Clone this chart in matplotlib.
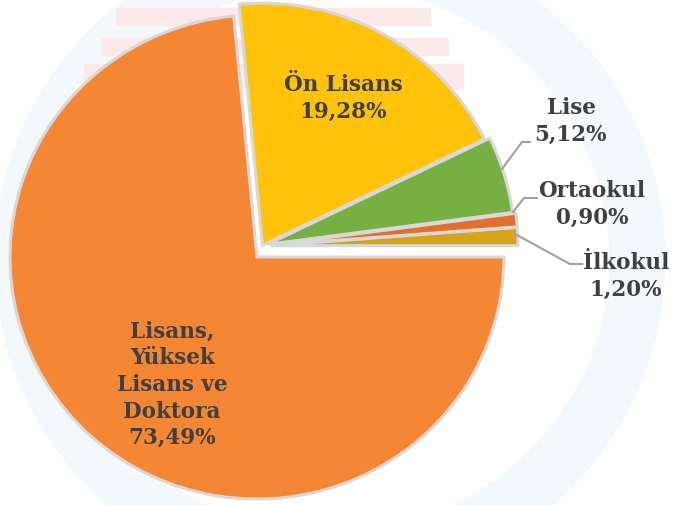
import matplotlib.pyplot as plt
from matplotlib.patches import Rectangle, Wedge

# education levels, counter-clockwise from 3 o'clock
labels = ["İlkokul", "Ortaokul", "Lise", "Ön Lisans", "Lisans,\nYüksek\nLisans ve\nDoktora"]
shares = [1.20, 0.90, 5.12, 19.28, 73.49]
share_text = ["1,20%", "0,90%", "5,12%", "19,28%", "73,49%"]
colors = ["#D6A419", "#E2702C", "#76B043", "#FFC40A", "#F58634"]
explode_px = [9, 9, 6, 1, 0]  # offsets in data (pixel) units

W, H = 675, 506
ys = 0.98  # slight vertical squash, the pie is a little wider than tall


def Y(py):
    # pixel row from the top -> data y
    return (H - py) / ys


fig = plt.figure(figsize=(6.75, 5.06), dpi=100)
ax = fig.add_axes([0, 0, 1, 1])
ax.axis("off")

# faint watermark logo in the background
ax.add_patch(Wedge((330, Y(260)), 335, 0, 360, width=55, color="#F3F8FC", zorder=0))
for x0, y0, w, h in [(116, 9, 314, 17), (101, 39, 347, 17), (84, 65, 379, 25)]:
    ax.add_patch(Rectangle((x0, Y(y0 + h)), w, h / ys, color="#FCE9E9", zorder=0))

wedges, _ = ax.pie(shares, colors=colors, explode=explode_px, startangle=0,
                   counterclock=True, center=(262, Y(247)), radius=247,
                   wedgeprops=dict(edgecolor="#D8D8D8", linewidth=2.2))
for w in wedges:
    w.set_zorder(2)
# the big slice sits pulled down-left from the rest
wedges[4].set_center((257, Y(258)))
ax.set_xlim(0, W)
ax.set_ylim(0, H / ys)
ax.set_aspect("auto")

font = dict(family="DejaVu Serif", fontweight="bold", color="#404040",
            fontsize=15.5, ha="center", va="center", linespacing=1.27, zorder=5)

# labels inside the two big slices
ax.text(343, Y(98), labels[3] + "\n" + share_text[3], **font)
ax.text(172, Y(385), labels[4] + "\n" + share_text[4], **font)

# outside labels with leader lines (pixel rows from the top)
outside = [
    (0, (515, 235), (570, 265), (582, 265), (626, 276)),
    (1, (513, 213), (524, 199), (537, 199), (592, 204)),
    (2, (502, 170), (522, 143), (530, 143), (571, 121)),
]
for idx, p0, p1, p2, txt in outside:
    ax.plot([p0[0], p1[0], p2[0]], [Y(p0[1]), Y(p1[1]), Y(p2[1])],
            color="#A0A0A0", lw=1.5, zorder=4)
    ax.text(txt[0], Y(txt[1]), labels[idx] + "\n" + share_text[idx], **font)

fig.savefig("out.png", dpi=100)
